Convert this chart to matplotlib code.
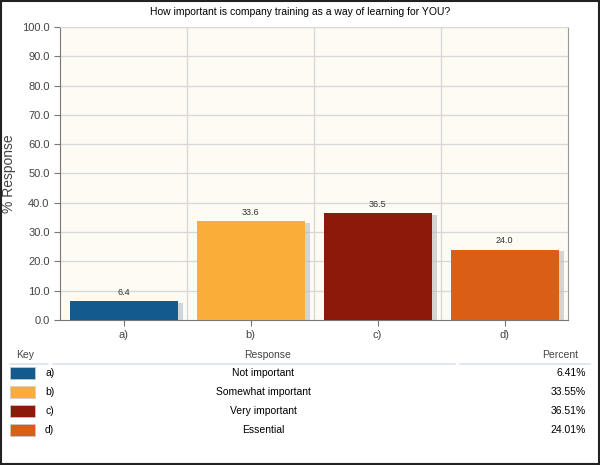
import matplotlib
matplotlib.use("Agg")
import matplotlib.pyplot as plt
from matplotlib.patches import Rectangle
from matplotlib.lines import Line2D

categories = ["a)", "b)", "c)", "d)"]
values = [6.4, 33.6, 36.5, 24.0]
responses = ["Not important", "Somewhat important", "Very important", "Essential"]
percents = ["6.41%", "33.55%", "36.51%", "24.01%"]
colors = ["#135a8f", "#fbad3a", "#8c1a0a", "#d95f17"]

plt.rcParams['font.family'] = ['Liberation Sans', 'DejaVu Sans']
fig = plt.figure(figsize=(6, 4.65), dpi=100)
fig.patches.append(Rectangle((0.002, 0.002), 0.996, 0.996, transform=fig.transFigure,
                             fill=False, edgecolor="#222222", lw=1.5))
ax = fig.add_axes([0.1, 0.312, 0.847, 0.630])
ax.set_facecolor("#fdfbf3")
x = range(len(categories))
ax.bar([i + 0.04 for i in x], values, width=0.85, color="#bbbbbb", alpha=0.6, zorder=2, bottom=-0.6)
ax.bar(x, values, width=0.85, color=colors, zorder=3)
for i, v in zip(x, values):
    ax.text(i, v + 1.5, f"{v:.1f}", ha="center", va="bottom", fontsize=6.5, color="#333333")
ax.set_xlim(-0.5, 3.5)
ax.set_ylim(0, 100)
ax.set_yticks(range(0, 101, 10))
ax.set_yticklabels([f"{t:.1f}" for t in range(0, 101, 10)], fontsize=8, color="#444444")
ax.set_xticks(list(x))
ax.set_xticklabels(categories, fontsize=8, color="#444444")
for t in range(10, 101, 10):
    ax.axhline(t, color="#d8d8d8", lw=1, zorder=1)
for b in [0.5, 1.5, 2.5]:
    ax.axvline(b, color="#d8d8d8", lw=1, zorder=1)
for s in ax.spines.values():
    s.set_color("#777777")
ax.spines['top'].set_color("#d8d8d8")
ax.spines['right'].set_color("#999999")
ax.tick_params(length=4, color="#777777")
ax.set_ylabel("% Response", fontsize=10, color="#444444")
fig.text(0.5, 0.975, "How important is company training as a way of learning for YOU?",
         ha="center", va="center", fontsize=7.5)

def fy(py):
    return 1 - py / 465
fig.text(25/600, fy(355), "Key", ha="center", va="center", fontsize=7.5, color="#444444")
fig.text(268/600, fy(355), "Response", ha="center", va="center", fontsize=7.5, color="#444444")
fig.text(560/600, fy(355), "Percent", ha="center", va="center", fontsize=7.5, color="#444444")
for x0, x1 in [(10, 48), (53, 455), (460, 590)]:
    fig.add_artist(Line2D([x0/600, x1/600], [fy(364)]*2, color="#dde3ea", lw=1.2))
rows = [373, 392, 411, 430]
for py, c, k, r, p in zip(rows, colors, categories, responses, percents):
    fig.patches.append(Rectangle((10/600, fy(py + 6)), 25/600, 12/465, transform=fig.transFigure,
                                 facecolor=c, edgecolor="#cccccc", lw=0.5))
    fig.text(45/600, fy(py), k, ha="left", va="center", fontsize=7.5)
    fig.text(263/600, fy(py), r, ha="center", va="center", fontsize=7.5)
    fig.text(586/600, fy(py), p, ha="right", va="center", fontsize=7.5)

fig.savefig("out.png", dpi=100)
